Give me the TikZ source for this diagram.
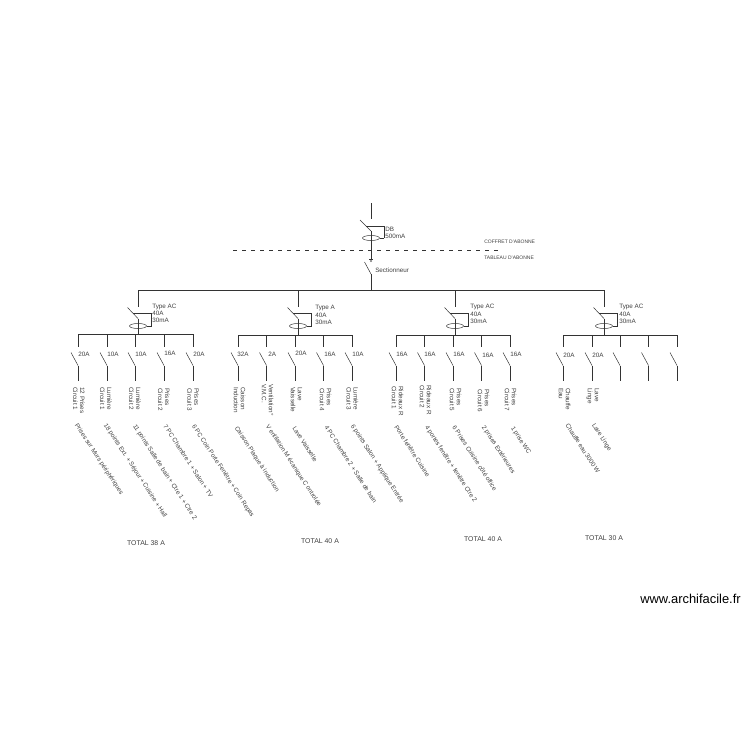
\documentclass[tikz,border=0pt]{standalone}
\usepackage{fontspec}
\setmainfont{Liberation Sans}
\usetikzlibrary{shapes.geometric}

\begin{document}
\begin{tikzpicture}[x=1pt,y=-1pt,line width=0.5pt,draw=black!80,
                    every node/.style={text=black!75,inner sep=0pt,font=\fontsize{6.3}{7}\selectfont},
                    txt node/.style={anchor=west,align=left},
                    side node/.style={rotate=-90,anchor=west,align=left},
                    long node/.style={rotate=-57,anchor=west},
                    ring node/.style={ellipse,draw,minimum width=17pt,minimum height=5pt,fill=none},
                    small node/.style={anchor=west,font=\fontsize{5}{6}\selectfont},
                    total node/.style={font=\fontsize{6.9}{8}\selectfont}]
  \useasboundingbox (0,0) rectangle (750,750);

  % arrivee
  \coordinate (top) at (371,203);
  \coordinate (topend) at (371,219);
  \coordinate (dbblade) at (360,220);
  \coordinate (dbpivot) at (371,231);
  \coordinate (dbend) at (371,259);
  \coordinate (tickl) at (369,259);
  \coordinate (tickr) at (373,259);
  \coordinate (dbarm) at (366,226);
  \coordinate (dbcorner) at (384,226);
  \coordinate (dbdown) at (384,238);
  \node[ring node] (dbring) at (371,238) {};
  \node[txt node] (db) at (385,229.5) {DB};
  \node[txt node] (dbma) at (385,236) {500mA};
  \path (top) edge (topend)
        (dbblade) edge (dbpivot)
        (dbpivot) edge (dbend)
        (tickl) edge (tickr)
        (dbarm) edge (dbcorner)
        (dbcorner) edge (dbdown)
        (dbdown) edge (dbring.east);
  \node[circle,draw,line width=0.3pt,minimum size=2pt] (dbfoot) at (371,261) {};

  % coffret / tableau
  \coordinate (dashl) at (233,250.5);
  \coordinate (dashr) at (498,250.5);
  \draw[dash pattern=on 4pt off 5pt] (dashl) -- (dashr);
  \node[small node] (coffret) at (484,242) {COFFRET D'ABONNE};
  \node[small node] (tableau) at (484,258) {TABLEAU D'ABONNE};

  % sectionneur et barre
  \coordinate (secblade) at (364.5,262);
  \coordinate (secpivot) at (371,274);
  \coordinate (secbus) at (371,290);
  \coordinate (busl) at (138,290);
  \coordinate (busr) at (605,290);
  \node[txt node] (sec) at (375,270) {Sectionneur};
  \path (secblade) edge (secpivot)
        (secpivot) edge (secbus)
        (busl) edge (busr);

  % differentiels
  \foreach \g/\x/\lx/\ya/\yb/\yc/\ybus/\sl/\sr/\kind in
     {a/138/152/307/313/320/334/78/193/Type AC,
      b/298/315/308/315/322/335/238/352/Type A,
      c/455/470/307/314/321/335/396/510/Type AC,
      d/604/619/307/314/321/335/563/677/Type AC}{
    \coordinate (\g drop) at (\x,290);
    \coordinate (\g stop) at (\x,306.5);
    \coordinate (\g blade) at (\x-10.5,307.5);
    \coordinate (\g pivot) at (\x,318.5);
    \coordinate (\g bus) at (\x,\ybus);
    \coordinate (\g arm) at (\x-5,313.5);
    \coordinate (\g corner) at (\x+13.5,313.5);
    \coordinate (\g down) at (\x+13.5,326);
    \coordinate (\g left) at (\sl,\ybus);
    \coordinate (\g right) at (\sr,\ybus);
    \node[ring node] (\g ring) at (\x,326) {};
    \node[txt node] (\g kind) at (\lx,\ya) {\kind};
    \node[txt node] (\g amp) at (\lx,\yb) {40A};
    \node[txt node] (\g ma) at (\lx,\yc) {30mA};
    \path (\g drop) edge (\g stop)
          (\g blade) edge (\g pivot)
          (\g pivot) edge (\g bus)
          (\g arm) edge (\g corner)
          (\g corner) edge (\g down)
          (\g down) edge (\g ring.east)
          (\g left) edge (\g right);
  }

  % departs
  \foreach \n/\x/\ybus in
     {a1/78/334,a2/107/334,a3/135/334,a4/164/334,a5/193/334,
      b1/238/335,b2/266.5/335,b3/295/335,b4/323.5/335,b5/352/335,
      c1/396/335,c2/424.5/335,c3/453/335,c4/481.5/335,c5/510/335,
      d1/563/335,d2/592/335,d3/620/335,d4/648.5/335,d5/677/335}{
    \coordinate (\n top) at (\x,\ybus);
    \coordinate (\n stop) at (\x,347);
    \coordinate (\n blade) at (\x-7,352.5);
    \coordinate (\n pivot) at (\x,365.5);
    \coordinate (\n end) at (\x,380.5);
    \path (\n top) edge (\n stop)
          (\n blade) edge (\n pivot)
          (\n pivot) edge (\n end);
  }

  % calibres
  \foreach \n/\x/\y/\cal in
     {a1/78/354/20A,a2/107/354/10A,a3/135/354/10A,a4/164/353.5/16A,a5/193/354/20A,
      b1/237/354/32A,b2/268/354/2A,b3/295/353/20A,b4/324/354/16A,b5/352/354/10A,
      c1/396/354/16A,c2/424/354/16A,c3/453/354/16A,c4/482/355/16A,c5/510/354/16A,
      d1/563/355/20A,d2/592/355/20A}{
    \node[txt node] (\n cal) at (\x,\y) {\cal};
  }

  % repere des circuits
  \foreach \n/\x/\y/\one/\two in
     {a1/79/387/12 Prises/Circuit 1,a2/106/387/Lumi\`ere/Circuit 1,
      a3/135/387/Lumi\`ere/Circuit 2,a4/164/388/Prises/Circuit 2,
      a5/193/388/Prises/Circuit 3,
      b1/239.5/387/Caisson/Induction,b2/267.5/384/Ventilation°/V.M.C.,
      b3/296.5/387/Lave/Vaisselle,b4/325.5/388/Prises/Circuit 4,
      b5/352.5/387/Lumi\`ere/Circuit 3,
      c1/397.5/386/Rideaux R/Circuit 1,c2/425.5/385/Rideaux R/Circuit 2,
      c3/455.5/388/Prises/Circuit 5,c4/483.5/389/Prises/Circuit 6,
      c5/510.5/388/Prises/Circuit 7,
      d1/564.5/388/Chauffe/Eau,d2/593/388/Lave/Linge}{
    \node[side node] (\n rep) at (\x,\y) {\one\\\two};
  }

  % pieces desservies
  \foreach \n/\x/\y/\what in
     {a1/76/424/Prises sur Murs p\'eriph\'eriques,
      a2/105/424/18 points Ext. + S\'ejour + Cuisine + Hall,
      a3/134/425/11 points Salle de bain + Ctre 1 + Ctre 2,
      a4/165/425/7 PC Chambre 1 + Salon + TV,
      a5/193/425/6 PC Coin Porte Fen\^etre + Coin Repas,
      b1/236/427/Caisson Plaque \`a induction,
      b2/267/425/V entilation M \'ecanique C ontrol\'ee,
      b3/294/427/Lave Vaisselle,
      b4/326/426/4 PC Chambre 2 + Salle de bain,
      b5/352/425/6 points Salon + Applique Entr\'ee,
      c1/396/426/Porte fen\^etre Cuisine,
      c2/426/426/4 portes fen\^etre + fen\^etre Ctre 2,
      c3/454/426/6 Prises Cuisine c\^ot\'e office,
      c4/483/426/2 prises Ext\'erieures,
      c5/512/427/1 prise WC,
      d1/567/424/Chauffe eau 3000 W,
      d2/593/424/Lave Linge}{
    \node[long node] (\n what) at (\x,\y) {\what};
  }

  % totaux
  \node[total node] (total1) at (146,543) {TOTAL 38 A};
  \node[total node] (total2) at (320,541) {TOTAL 40 A};
  \node[total node] (total3) at (483,539) {TOTAL 40 A};
  \node[total node] (total4) at (604,538) {TOTAL 30 A};

  \node[text=black,font=\fontsize{12.9}{15}\selectfont] (site) at (690.5,599) {www.archifacile.fr};
\end{tikzpicture}
\end{document}
